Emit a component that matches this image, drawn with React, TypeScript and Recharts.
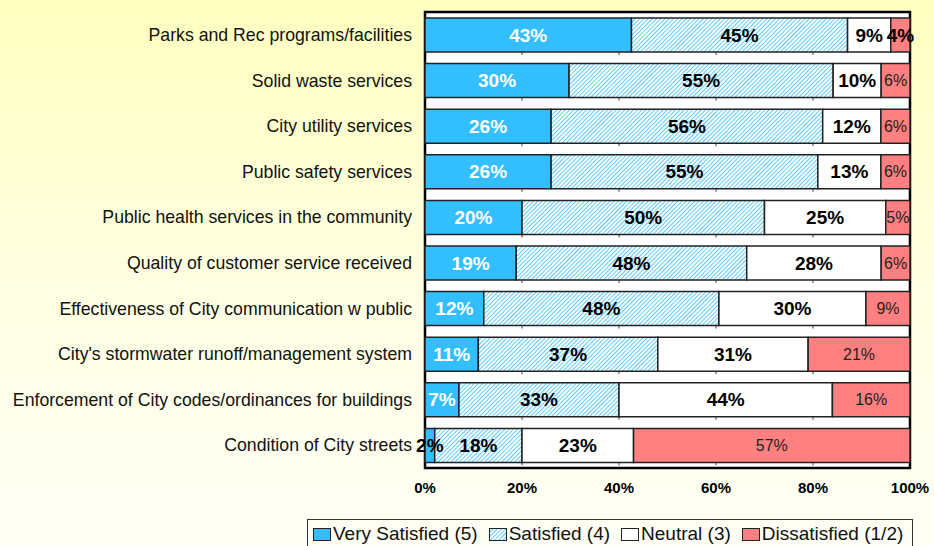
import React from 'react'
import { BarChart, Bar, XAxis, YAxis, CartesianGrid, ReferenceArea, LabelList } from 'recharts'

const categories = [
  'Parks and Rec programs/facilities',
  'Solid waste services',
  'City utility services',
  'Public safety services',
  'Public health services in the community',
  'Quality of customer service received',
  'Effectiveness of City communication w public',
  "City's stormwater runoff/management system",
  'Enforcement of City codes/ordinances for buildings',
  'Condition of City streets',
]
const verySatisfied = [43, 30, 26, 26, 20, 19, 12, 11, 7, 2]
const satisfied = [45, 55, 56, 55, 50, 48, 48, 37, 33, 18]
const neutral = [9, 10, 12, 13, 25, 28, 30, 31, 44, 23]
const dissatisfied = [4, 6, 6, 6, 5, 6, 9, 21, 16, 57]

const xTicks = [0, 0.2, 0.4, 0.6, 0.8, 1]
const seriesNames = ['Very Satisfied (5)', 'Satisfied (4)', 'Neutral (3)', 'Dissatisfied (1/2)']

const data = categories.map((name, i) => ({
  name,
  vs: verySatisfied[i],
  s: satisfied[i],
  n: neutral[i],
  d: dissatisfied[i],
}))

const FONT = '"Liberation Sans", Arial, sans-serif'
const BLUE = '#33BFFF'
const RED = '#FF8080'
const fills = [BLUE, 'url(#hatch)', '#FFFFFF', RED]

// label renderer; small values drawn dark + bold since they spill over the bar
const makeLabel = (kind: 'vs' | 's' | 'n' | 'd') => (props: any) => {
  const { x, y, width, height, value } = props
  const small = value < 5
  let fill = '#000'
  let weight = 'bold'
  let size = 19
  if (kind === 'vs' && !small) fill = '#fff'
  if (kind === 'd' && !small) {
    fill = '#222'
    weight = 'normal'
    size = 16
  }
  return (
    <text
      x={x + width / 2}
      y={y + height / 2}
      textAnchor="middle"
      dominantBaseline="central"
      fill={fill}
      fontWeight={weight}
      fontSize={size}
      fontFamily={FONT}
    >
      {value}%
    </text>
  )
}

// small tick marks under every bar at each 20% step
const bandTicks = (props: any) => {
  const { x, y, width, height } = props
  return (
    <g>
      {xTicks.slice(1, -1).map((t) => (
        <line key={t} x1={x + width * t} x2={x + width * t} y1={y + height} y2={y + height + 3} stroke="#444" strokeWidth={1} />
      ))}
    </g>
  )
}

const LegendIcon = ({ fill }: { fill: string }) => (
  <svg width={18} height={13} style={{ marginRight: 2 }}>
    <defs>
      <pattern id="hatchLegend" width={3} height={3} patternUnits="userSpaceOnUse" patternTransform="rotate(45)">
        <rect width={3} height={3} fill="#fff" />
        <line x1={0} y1={0} x2={0} y2={3} stroke={BLUE} strokeWidth={1.6} />
      </pattern>
    </defs>
    <rect x={0.5} y={0.5} width={17} height={12} fill={fill === 'url(#hatch)' ? 'url(#hatchLegend)' : fill} stroke="#222" strokeWidth={1} />
  </svg>
)

export default function App() {
  return (
    <div
      style={{
        position: 'fixed',
        top: 0,
        left: 0,
        width: 934,
        height: 546,
        overflow: 'hidden',
        background: 'linear-gradient(to bottom, #FFFFC0 0%, #FFFFE4 55%, #FFFFF6 100%)',
        fontFamily: FONT,
      }}
    >
      <BarChart
        width={934}
        height={546}
        data={data}
        layout="vertical"
        stackOffset="expand"
        barCategoryGap={6}
        margin={{ top: 12, right: 24, bottom: 48, left: 0 }}
      >
        <defs>
          <pattern id="hatch" width={3} height={3} patternUnits="userSpaceOnUse" patternTransform="rotate(45)">
            <rect width={3} height={3} fill="#fff" />
            <line x1={0} y1={0} x2={0} y2={3} stroke={BLUE} strokeWidth={1.6} />
          </pattern>
        </defs>
        <CartesianGrid horizontal={false} vertical={false} fill="#fff" />
        <XAxis
          type="number"
          domain={[0, 1]}
          ticks={xTicks}
          tickFormatter={(v: number) => `${Math.round(v * 100)}%`}
          axisLine={false}
          tickLine={false}
          tickMargin={8}
          height={30}
          tick={{ fill: '#000', fontSize: 15, fontWeight: 'bold', fontFamily: FONT }}
        />
        <YAxis
          type="category"
          dataKey="name"
          width={425}
          axisLine={false}
          tickLine={false}
          tickMargin={7}
          interval={0}
          tick={{ fill: '#111', fontSize: 17.7, fontFamily: FONT }}
        />
        <Bar dataKey="vs" stackId="a" fill={fills[0]} stroke="#222" strokeWidth={1.5} isAnimationActive={false} background={bandTicks}>
          <LabelList dataKey="vs" content={makeLabel('vs')} />
        </Bar>
        <Bar dataKey="s" stackId="a" fill={fills[1]} stroke="#222" strokeWidth={1.5} isAnimationActive={false}>
          <LabelList dataKey="s" content={makeLabel('s')} />
        </Bar>
        <Bar dataKey="n" stackId="a" fill={fills[2]} stroke="#222" strokeWidth={1.5} isAnimationActive={false}>
          <LabelList dataKey="n" content={makeLabel('n')} />
        </Bar>
        <Bar dataKey="d" stackId="a" fill={fills[3]} stroke="#222" strokeWidth={1.5} isAnimationActive={false}>
          <LabelList dataKey="d" content={makeLabel('d')} />
        </Bar>
        <ReferenceArea x1={0} x2={1} fill="none" stroke="#000" strokeWidth={2.5} ifOverflow="visible" />
      </BarChart>
      <div
        style={{
          position: 'absolute',
          left: 307,
          top: 519,
          width: 606,
          height: 40,
          border: '1px solid #333',
          boxSizing: 'border-box',
          display: 'flex',
          alignItems: 'flex-start',
          paddingTop: 3,
          paddingLeft: 5,
          fontSize: 19,
          lineHeight: '22px',
          color: '#111',
        }}
      >
        {seriesNames.map((n, i) => (
          <div key={n} style={{ display: 'flex', alignItems: 'center', marginRight: 11, whiteSpace: 'nowrap' }}>
            <LegendIcon fill={fills[i]} />
            <span>{n}</span>
          </div>
        ))}
      </div>
    </div>
  )
}
